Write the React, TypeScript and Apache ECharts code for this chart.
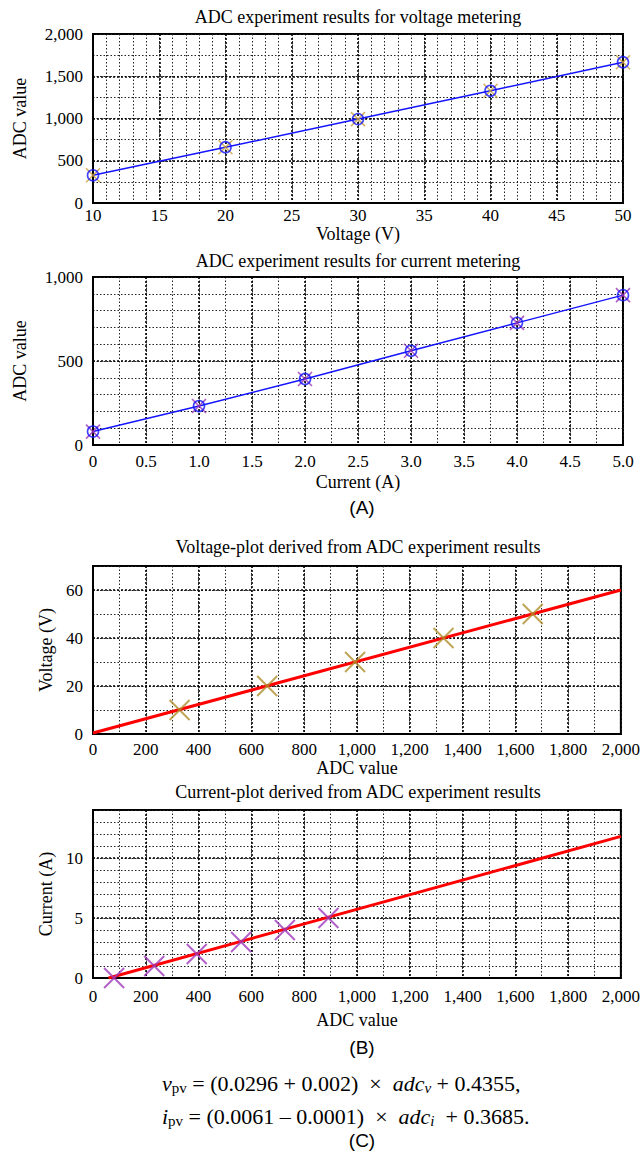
import React, { useEffect, useRef } from 'react';
import * as echarts from 'echarts';

// ---- data ----
const voltageSetpoints = [10, 20, 30, 40, 50];
const adcVoltage = [328, 660, 993, 1328, 1666];
const currentSetpoints = [0, 1, 2, 3, 4, 5];
const adcCurrent = [80, 232, 393, 561, 727, 892];
const voltageFitX = [0, 2000];
const voltageFitY = [0.4, 60];
const currentFitX = [59, 2000];
const currentFitY = [0, 11.8];

const chartTitles = [
  'ADC experiment results for voltage metering',
  'ADC experiment results for current metering',
  'Voltage-plot derived from ADC experiment results',
  'Current-plot derived from ADC experiment results',
];
const xNames = ['Voltage (V)', 'Current (A)', 'ADC value', 'ADC value'];
const yNames = ['ADC value', 'ADC value', 'Voltage (V)', 'Current (A)'];
const panelLabels = ['(A)', '(B)', '(C)'];

const SERIF = 'Liberation Serif';
const SANS = 'Liberation Sans';
const X_PATH = 'path://M0,0L10,10M10,0L0,10';

const GRID_LEFT = 93;
const GRID_W = 530;
const gridTops = [34, 277, 566, 810];
const gridHeights = [169, 168, 168, 168];

const comma = (v: number) => String(v).replace(/\B(?=(\d{3})+(?!\d))/g, ',');

function majorAxis(
  dim: 'x' | 'y',
  gi: number,
  min: number,
  max: number,
  interval: number,
  fmt: (v: number) => string,
  name: string,
  labelMargin: number,
  nameGap: number
) {
  return {
    type: 'value',
    gridIndex: gi,
    position: dim === 'x' ? 'bottom' : 'left',
    min,
    max,
    interval,
    name,
    nameLocation: 'middle',
    nameGap,
    nameTextStyle: { fontFamily: SERIF, fontSize: 18, color: '#000' },
    axisLine: { show: true, onZero: false, lineStyle: { color: '#000', width: 2 } },
    axisTick: { show: false },
    axisLabel: {
      formatter: fmt,
      margin: labelMargin,
      fontFamily: SERIF,
      fontSize: 17,
      color: '#000',
    },
    splitLine: { show: true, lineStyle: { color: '#000', width: 1.6, type: [2, 2] } },
    z: 3,
  };
}

function minorAxis(gi: number, min: number, max: number, interval: number) {
  return {
    type: 'value',
    gridIndex: gi,
    min,
    max,
    interval,
    axisLine: { show: false, onZero: false },
    axisTick: { show: false },
    axisLabel: { show: false },
    splitLine: { show: true, lineStyle: { color: '#222', width: 1, type: [1.5, 2] } },
    z: 1,
  };
}

function buildOption() {
  const grid = gridTops.map((t, i) => ({
    left: GRID_LEFT,
    top: t,
    width: GRID_W,
    height: gridHeights[i],
    show: true,
    borderColor: '#000',
    borderWidth: 2,
    backgroundColor: 'transparent',
  }));

  const xAxis = [
    majorAxis('x', 0, 10, 50, 5, (v) => String(v), xNames[0], 4, 19),
    minorAxis(0, 10, 50, 1),
    majorAxis('x', 1, 0, 5, 0.5, (v) => (v === 0 ? '0' : v.toFixed(1)), xNames[1], 8, 28),
    minorAxis(1, 0, 5, 0.25),
    majorAxis('x', 2, 0, 2000, 200, comma, xNames[2], 7, 25),
    minorAxis(2, 0, 2000, 100),
    majorAxis('x', 3, 0, 2000, 200, comma, xNames[3], 10, 33),
    minorAxis(3, 0, 2000, 100),
  ];
  const yAxis = [
    majorAxis('y', 0, 0, 2000, 500, comma, yNames[0], 10, 64),
    minorAxis(0, 0, 2000, 250),
    majorAxis('y', 1, 0, 1000, 500, comma, yNames[1], 10, 64),
    minorAxis(1, 0, 1000, 100),
    majorAxis('y', 2, 0, 70, 20, (v) => (v === 70 ? '' : String(v)), yNames[2], 10, 38),
    minorAxis(2, 0, 70, 10),
    majorAxis('y', 3, 0, 14, 5, (v) => (v === 14 ? '' : String(v)), yNames[3], 10, 30),
    minorAxis(3, 0, 14, 1),
  ];

  const vPts = voltageSetpoints.map((v, i) => [v, adcVoltage[i]]);
  const iPts = currentSetpoints.map((c, i) => [c, adcCurrent[i]]);
  const vDerived = adcVoltage.map((a, i) => [a, voltageSetpoints[i]]);
  const iDerived = adcCurrent.map((a, i) => [a, currentSetpoints[i]]);

  const blue = '#1414ff';
  const gold = '#c9a13b';
  const purple = '#9b35b5';

  const series: any[] = [
    // chart 1
    { type: 'line', xAxisIndex: 0, yAxisIndex: 0, data: vPts, showSymbol: false, lineStyle: { color: blue, width: 1.5 }, z: 4 },
    { type: 'scatter', xAxisIndex: 0, yAxisIndex: 0, data: vPts, symbol: X_PATH, symbolSize: 14, itemStyle: { color: 'none', borderColor: gold, borderWidth: 1.6 }, z: 5 },
    { type: 'scatter', xAxisIndex: 0, yAxisIndex: 0, data: vPts, symbol: 'circle', symbolSize: 11, itemStyle: { color: 'none', borderColor: blue, borderWidth: 1.6 }, z: 6 },
    // chart 2
    { type: 'line', xAxisIndex: 2, yAxisIndex: 2, data: iPts, showSymbol: false, lineStyle: { color: blue, width: 1.5 }, z: 4 },
    { type: 'scatter', xAxisIndex: 2, yAxisIndex: 2, data: iPts, symbol: X_PATH, symbolSize: 14, itemStyle: { color: 'none', borderColor: purple, borderWidth: 1.6 }, z: 5 },
    { type: 'scatter', xAxisIndex: 2, yAxisIndex: 2, data: iPts, symbol: 'circle', symbolSize: 11, itemStyle: { color: 'none', borderColor: blue, borderWidth: 1.6 }, z: 6 },
    // chart 3
    { type: 'line', xAxisIndex: 4, yAxisIndex: 4, data: voltageFitX.map((x, i) => [x, voltageFitY[i]]), showSymbol: false, lineStyle: { color: '#ff0000', width: 3 }, z: 4 },
    { type: 'scatter', xAxisIndex: 4, yAxisIndex: 4, data: vDerived, symbol: X_PATH, symbolSize: 20, itemStyle: { color: 'none', borderColor: '#b08f2c', borderWidth: 2 }, z: 5 },
    // chart 4
    { type: 'line', xAxisIndex: 6, yAxisIndex: 6, data: currentFitX.map((x, i) => [x, currentFitY[i]]), showSymbol: false, lineStyle: { color: '#ff0000', width: 3 }, z: 4 },
    { type: 'scatter', xAxisIndex: 6, yAxisIndex: 6, data: iDerived, symbol: X_PATH, symbolSize: 20, itemStyle: { color: 'none', borderColor: '#a03abd', borderWidth: 2 }, z: 5 },
  ];

  const titleCenters = [18, 262, 548, 793];
  const title = chartTitles.map((t, i) => ({
    text: t,
    left: GRID_LEFT + GRID_W / 2,
    top: titleCenters[i] - 10,
    textAlign: 'center',
    padding: 0,
    textStyle: { fontFamily: SERIF, fontSize: 18, fontWeight: 'normal', color: '#000' },
  }));

  const panelY = [507, 1047, 1140];
  const rich = {
    it: { fontFamily: SERIF, fontSize: 22, fontStyle: 'italic', fill: '#000', lineHeight: 24 },
    sub: { fontFamily: SERIF, fontSize: 15, verticalAlign: 'bottom', padding: [9, 0, 0, 0], fill: '#000', lineHeight: 15 },
    isub: { fontFamily: SERIF, fontSize: 15, fontStyle: 'italic', verticalAlign: 'bottom', padding: [9, 0, 0, 0], fill: '#000', lineHeight: 15 },
    n: { fontFamily: SERIF, fontSize: 22, fill: '#000', lineHeight: 24 },
  };
  const graphic: any[] = [
    ...panelLabels.map((p, i) => ({
      type: 'text',
      x: 362,
      y: panelY[i],
      style: { text: p, fontFamily: SANS, fontSize: 19, fill: '#000', align: 'center', verticalAlign: 'middle' },
    })),
    {
      type: 'text',
      x: 162,
      y: 1083,
      style: {
        text: '{it|v}{sub|pv}{n| = (0.0296 + 0.002)  ×  }{it|adc}{isub|v}{n| + 0.4355,}',
        rich,
        align: 'left',
        verticalAlign: 'middle',
      },
    },
    {
      type: 'text',
      x: 162,
      y: 1116,
      style: {
        text: '{it|i}{sub|pv}{n| = (0.0061 – 0.0001)  ×  }{it|adc}{isub|i}{n|  + 0.3685.}',
        rich,
        align: 'left',
        verticalAlign: 'middle',
      },
    },
  ];

  return {
    animation: false,
    backgroundColor: '#fff',
    title,
    grid,
    xAxis,
    yAxis,
    series,
    graphic,
  };
}

export default function App() {
  const ref = useRef<HTMLDivElement>(null);
  useEffect(() => {
    if (!ref.current) return;
    const chart = echarts.init(ref.current, undefined, { renderer: 'svg' });
    chart.setOption(buildOption() as any);
    return () => chart.dispose();
  }, []);
  return (
    <div
      ref={ref}
      style={{ position: 'absolute', left: 0, top: 0, width: 643, height: 1153, background: '#fff' }}
    />
  );
}
